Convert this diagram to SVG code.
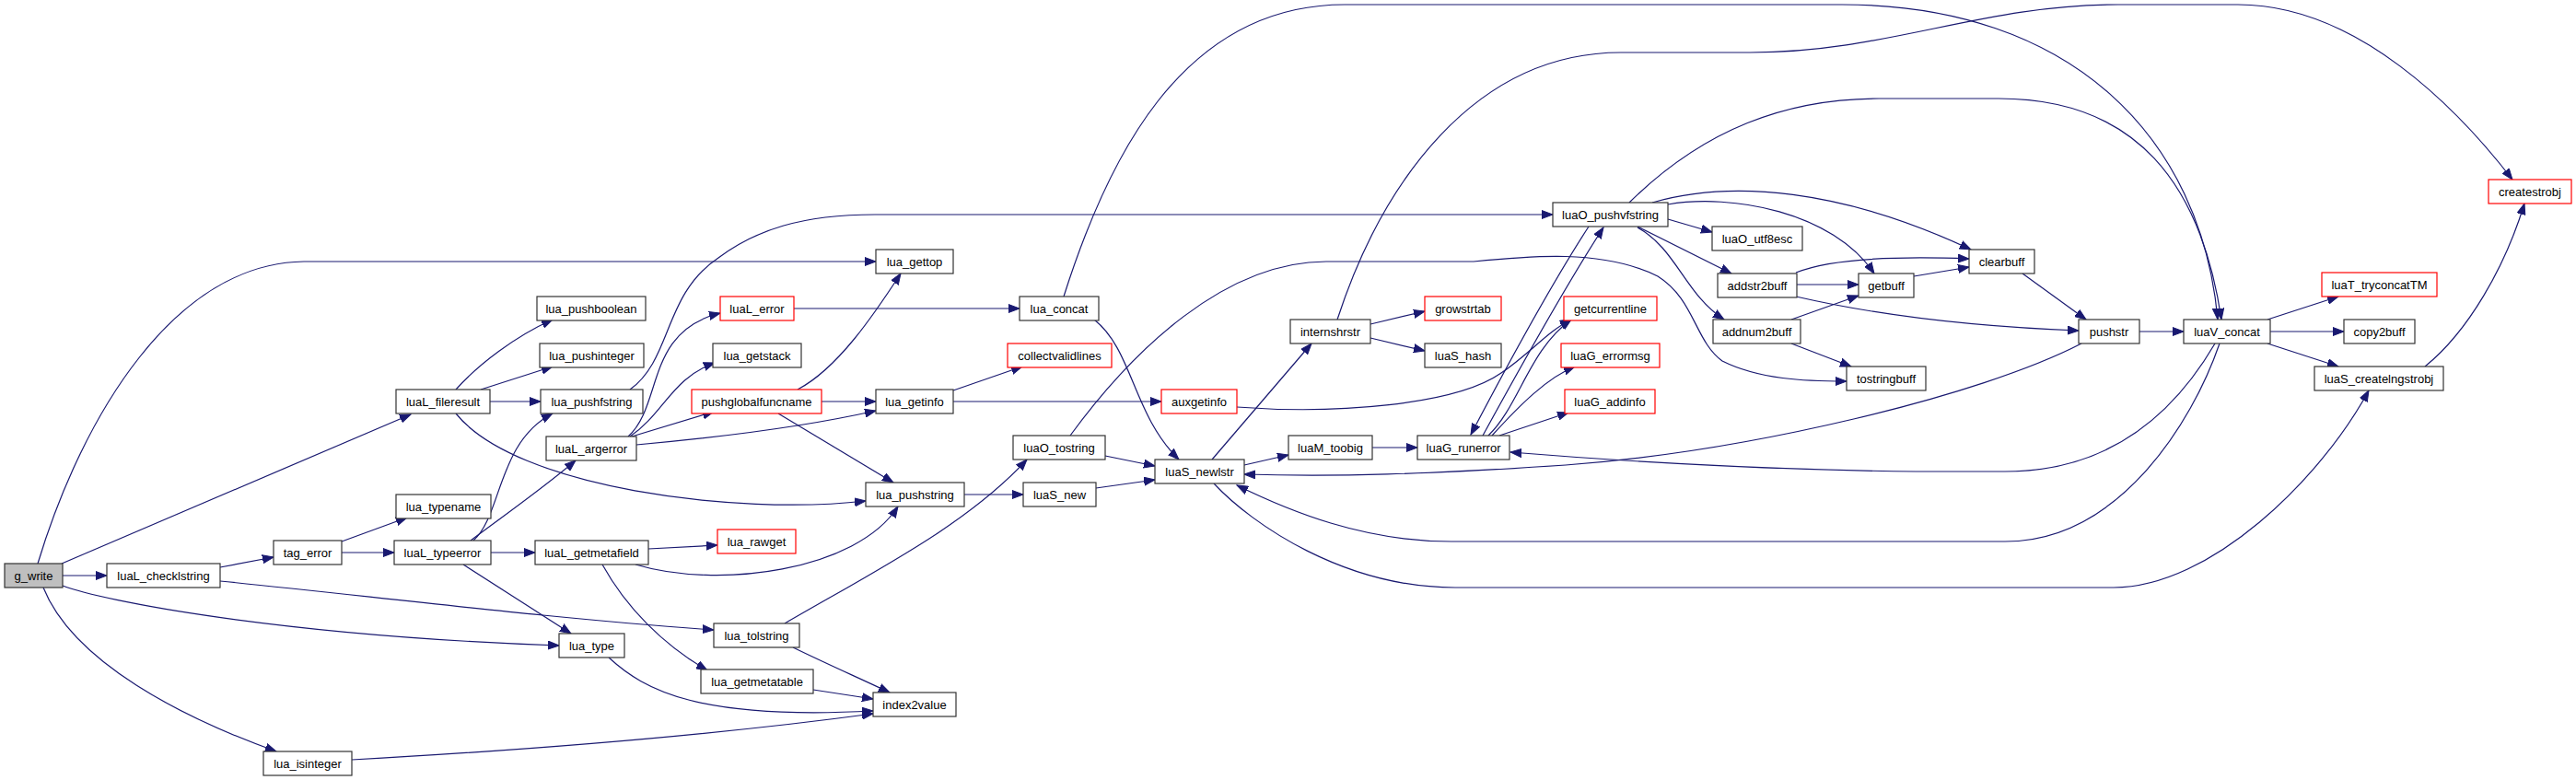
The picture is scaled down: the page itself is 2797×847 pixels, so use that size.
<svg xmlns="http://www.w3.org/2000/svg" width="2797" height="847" viewBox="0 0 2797 847">
<defs>
<style>
.n rect{fill:#fff;stroke:#333;stroke-width:1.2}
.n.r rect{stroke:#ff0000}
.n.g rect{fill:#bfbfbf}
.n text{font-family:"Liberation Sans",Arial,sans-serif;font-size:13px;fill:#000;text-anchor:middle}
.e path{fill:none;stroke:#191970;stroke-width:1.2;marker-end:url(#a)}
</style>
<marker id="a" markerWidth="13" markerHeight="10" refX="12" refY="5" orient="auto" markerUnits="userSpaceOnUse"><path d="M0,0.5 L12,5 L0,9.5 z" fill="#191970" stroke="#191970" stroke-width="1"/></marker>
</defs>
<rect width="2797" height="847" fill="#fff"/>
<g id="edges" class="e">
<path d="M68,625 L116,625"/>
<path d="M41,612 C90,450 190,286 330,284 L951,284"/>
<path d="M67,612 L446,450"/>
<path d="M68,636 C110,652 300,690 607,701"/>
<path d="M47,638 C80,720 200,780 300,816"/>
<path d="M239,616 L297,605"/>
<path d="M239,631 C400,647 600,672 775,684"/>
<path d="M371,588 L442,562"/>
<path d="M371,600 L428,600"/>
<path d="M533,600 L581,600"/>
<path d="M503,613 L620,688"/>
<path d="M511,587 C540,565 590,530 625,500"/>
<path d="M514,587 C545,560 540,480 600,449"/>
<path d="M495,423 C520,395 560,365 600,347"/>
<path d="M522,423 L600,398"/>
<path d="M532,436 L587,436"/>
<path d="M495,449 C560,530 800,560 940,544"/>
<path d="M682,474 C720,440 700,360 782,340"/>
<path d="M684,474 C720,450 730,410 776,394"/>
<path d="M686,474 L775,447"/>
<path d="M691,483 C780,475 880,462 951,446"/>
<path d="M684,423 C730,390 720,320 780,280 C820,250 870,233 950,233 L1686,233"/>
<path d="M866,423 C910,400 950,340 978,297"/>
<path d="M892,436 L951,436"/>
<path d="M845,449 L970,524"/>
<path d="M862,335 L1107,335"/>
<path d="M1035,424 L1110,398"/>
<path d="M1035,436 L1261,436"/>
<path d="M1188,347 C1230,380 1230,450 1280,499"/>
<path d="M1155,322 C1200,180 1280,5 1460,5 L2000,5 C2250,5 2390,150 2408,347"/>
<path d="M1200,495 L1254,506"/>
<path d="M1162,473 C1230,380 1330,284 1440,284 L1600,284 C1660,278 1740,270 1800,300 C1840,325 1840,370 1870,392 C1910,412 1960,414 2005,414"/>
<path d="M852,677 C950,620 1050,570 1115,499"/>
<path d="M861,703 C900,722 930,735 966,752"/>
<path d="M883,749 L948,759"/>
<path d="M661,714 C700,750 760,782 948,772"/>
<path d="M382,825 C600,813 800,795 948,775"/>
<path d="M704,596 L779,592"/>
<path d="M654,613 C680,660 720,700 768,728"/>
<path d="M690,613 C780,640 930,620 975,550"/>
<path d="M1047,537 L1111,537"/>
<path d="M1190,530 L1254,521"/>
<path d="M1316,499 L1424,373"/>
<path d="M1351,505 L1399,494"/>
<path d="M1490,486 L1539,486"/>
<path d="M1318,525 C1360,570 1460,638 1580,638 L2295,638 C2400,638 2520,520 2572,424"/>
<path d="M2410,373 C2380,460 2300,588 2177,588 L1576,588 C1480,588 1400,555 1343,527"/>
<path d="M2405,373 C2360,450 2290,512 2177,512 L2080,512 C1900,510 1750,500 1640,491"/>
<path d="M2260,373 C2150,430 1900,490 1700,505 C1550,515 1450,518 1351,515"/>
<path d="M2323,360 L2371,360"/>
<path d="M2462,347 L2539,322"/>
<path d="M2465,360 L2545,360"/>
<path d="M2462,373 L2539,398"/>
<path d="M2633,398 C2680,360 2720,290 2741,221"/>
<path d="M1452,347 C1500,200 1600,57 1760,57 L1900,57 C2050,57 2150,5 2300,5 L2430,5 C2560,5 2670,120 2728,195"/>
<path d="M1488,352 L1547,338"/>
<path d="M1488,367 L1547,381"/>
<path d="M1343,442 C1450,450 1580,440 1630,405 C1660,385 1680,360 1706,347"/>
<path d="M1616,473 C1650,440 1660,380 1706,347"/>
<path d="M1620,473 C1650,440 1680,410 1710,398"/>
<path d="M1628,473 L1703,448"/>
<path d="M1610,473 C1650,400 1700,310 1741,247"/>
<path d="M1725,246 C1690,300 1640,390 1597,472"/>
<path d="M1811,238 L1859,252"/>
<path d="M1778,246 L1880,297"/>
<path d="M1778,247 C1820,270 1830,320 1872,347"/>
<path d="M1811,222 C1880,210 1990,230 2035,297"/>
<path d="M1794,220 C1880,195 2000,205 2140,271"/>
<path d="M1769,220 C1850,140 1940,107 2040,107 L2170,107 C2320,107 2390,200 2412,347"/>
<path d="M1951,309 L2018,309"/>
<path d="M1950,296 C1990,280 2060,278 2138,281"/>
<path d="M1950,322 C2050,345 2150,355 2257,359"/>
<path d="M2078,300 L2138,290"/>
<path d="M1945,347 L2018,321"/>
<path d="M1945,373 L2010,398"/>
<path d="M2196,297 L2265,347"/>
</g>
<g id="n_g_write" class="n g"><rect x="5" y="612" width="63" height="26"/><text x="36.5" y="629.5">g_write</text></g>
<g id="n_luaL_checklstring" class="n"><rect x="116" y="612" width="123" height="26"/><text x="177.5" y="629.5">luaL_checklstring</text></g>
<g id="n_lua_gettop" class="n"><rect x="951" y="271" width="84" height="26"/><text x="993" y="288.5">lua_gettop</text></g>
<g id="n_luaL_fileresult" class="n"><rect x="430" y="423" width="102" height="26"/><text x="481" y="440.5">luaL_fileresult</text></g>
<g id="n_lua_pushboolean" class="n"><rect x="583" y="322" width="118" height="26"/><text x="642" y="339.5">lua_pushboolean</text></g>
<g id="n_lua_pushinteger" class="n"><rect x="586" y="373" width="113" height="26"/><text x="642.5" y="390.5">lua_pushinteger</text></g>
<g id="n_lua_pushfstring" class="n"><rect x="587" y="423" width="111" height="26"/><text x="642.5" y="440.5">lua_pushfstring</text></g>
<g id="n_luaL_argerror" class="n"><rect x="593" y="474" width="98" height="26"/><text x="642" y="491.5">luaL_argerror</text></g>
<g id="n_lua_typename" class="n"><rect x="430" y="537" width="103" height="26"/><text x="481.5" y="554.5">lua_typename</text></g>
<g id="n_tag_error" class="n"><rect x="297" y="587" width="74" height="26"/><text x="334" y="604.5">tag_error</text></g>
<g id="n_luaL_typeerror" class="n"><rect x="428" y="587" width="105" height="26"/><text x="480.5" y="604.5">luaL_typeerror</text></g>
<g id="n_luaL_getmetafield" class="n"><rect x="581" y="587" width="123" height="26"/><text x="642.5" y="604.5">luaL_getmetafield</text></g>
<g id="n_lua_type" class="n"><rect x="607" y="688" width="71" height="26"/><text x="642.5" y="705.5">lua_type</text></g>
<g id="n_lua_isinteger" class="n"><rect x="286" y="816" width="96" height="26"/><text x="334" y="833.5">lua_isinteger</text></g>
<g id="n_luaL_error" class="n r"><rect x="782" y="322" width="80" height="26"/><text x="822" y="339.5">luaL_error</text></g>
<g id="n_lua_getstack" class="n"><rect x="774" y="373" width="96" height="26"/><text x="822" y="390.5">lua_getstack</text></g>
<g id="n_pushglobalfuncname" class="n r"><rect x="751" y="423" width="141" height="26"/><text x="821.5" y="440.5">pushglobalfuncname</text></g>
<g id="n_lua_rawget" class="n r"><rect x="779" y="575" width="85" height="26"/><text x="821.5" y="592.5">lua_rawget</text></g>
<g id="n_lua_tolstring" class="n"><rect x="775" y="677" width="93" height="26"/><text x="821.5" y="694.5">lua_tolstring</text></g>
<g id="n_lua_getmetatable" class="n"><rect x="761" y="727" width="122" height="26"/><text x="822" y="744.5">lua_getmetatable</text></g>
<g id="n_index2value" class="n"><rect x="948" y="752" width="90" height="26"/><text x="993" y="769.5">index2value</text></g>
<g id="n_lua_concat" class="n"><rect x="1107" y="322" width="86" height="26"/><text x="1150" y="339.5">lua_concat</text></g>
<g id="n_collectvalidlines" class="n r"><rect x="1094" y="373" width="113" height="26"/><text x="1150.5" y="390.5">collectvalidlines</text></g>
<g id="n_lua_getinfo" class="n"><rect x="951" y="423" width="84" height="26"/><text x="993" y="440.5">lua_getinfo</text></g>
<g id="n_auxgetinfo" class="n r"><rect x="1261" y="423" width="82" height="26"/><text x="1302" y="440.5">auxgetinfo</text></g>
<g id="n_luaO_tostring" class="n"><rect x="1100" y="473" width="100" height="26"/><text x="1150" y="490.5">luaO_tostring</text></g>
<g id="n_luaS_newlstr" class="n"><rect x="1254" y="499" width="97" height="26"/><text x="1302.5" y="516.5">luaS_newlstr</text></g>
<g id="n_lua_pushstring" class="n"><rect x="940" y="524" width="107" height="26"/><text x="993.5" y="541.5">lua_pushstring</text></g>
<g id="n_luaS_new" class="n"><rect x="1111" y="524" width="79" height="26"/><text x="1150.5" y="541.5">luaS_new</text></g>
<g id="n_luaO_pushvfstring" class="n"><rect x="1686" y="220" width="125" height="26"/><text x="1748.5" y="237.5">luaO_pushvfstring</text></g>
<g id="n_luaO_utf8esc" class="n"><rect x="1859" y="246" width="98" height="26"/><text x="1908" y="263.5">luaO_utf8esc</text></g>
<g id="n_addstr2buff" class="n"><rect x="1865" y="297" width="86" height="26"/><text x="1908" y="314.5">addstr2buff</text></g>
<g id="n_getbuff" class="n"><rect x="2018" y="297" width="60" height="26"/><text x="2048" y="314.5">getbuff</text></g>
<g id="n_internshrstr" class="n"><rect x="1401" y="347" width="87" height="26"/><text x="1444.5" y="364.5">internshrstr</text></g>
<g id="n_growstrtab" class="n r"><rect x="1547" y="322" width="83" height="26"/><text x="1588.5" y="339.5">growstrtab</text></g>
<g id="n_luaS_hash" class="n"><rect x="1547" y="373" width="83" height="26"/><text x="1588.5" y="390.5">luaS_hash</text></g>
<g id="n_getcurrentline" class="n r"><rect x="1698" y="322" width="101" height="26"/><text x="1748.5" y="339.5">getcurrentline</text></g>
<g id="n_luaG_errormsg" class="n r"><rect x="1695" y="373" width="107" height="26"/><text x="1748.5" y="390.5">luaG_errormsg</text></g>
<g id="n_luaG_addinfo" class="n r"><rect x="1699" y="423" width="98" height="26"/><text x="1748" y="440.5">luaG_addinfo</text></g>
<g id="n_addnum2buff" class="n"><rect x="1860" y="347" width="95" height="26"/><text x="1907.5" y="364.5">addnum2buff</text></g>
<g id="n_tostringbuff" class="n"><rect x="2005" y="398" width="86" height="26"/><text x="2048" y="415.5">tostringbuff</text></g>
<g id="n_luaM_toobig" class="n"><rect x="1399" y="473" width="91" height="26"/><text x="1444.5" y="490.5">luaM_toobig</text></g>
<g id="n_luaG_runerror" class="n"><rect x="1539" y="473" width="100" height="26"/><text x="1589" y="490.5">luaG_runerror</text></g>
<g id="n_clearbuff" class="n"><rect x="2138" y="271" width="71" height="26"/><text x="2173.5" y="288.5">clearbuff</text></g>
<g id="n_createstrobj" class="n r"><rect x="2702" y="195" width="90" height="26"/><text x="2747" y="212.5">createstrobj</text></g>
<g id="n_luaT_tryconcatTM" class="n r"><rect x="2521" y="296" width="125" height="26"/><text x="2583.5" y="313.5">luaT_tryconcatTM</text></g>
<g id="n_pushstr" class="n"><rect x="2257" y="347" width="66" height="26"/><text x="2290" y="364.5">pushstr</text></g>
<g id="n_luaV_concat" class="n"><rect x="2371" y="347" width="94" height="26"/><text x="2418" y="364.5">luaV_concat</text></g>
<g id="n_copy2buff" class="n"><rect x="2545" y="347" width="77" height="26"/><text x="2583.5" y="364.5">copy2buff</text></g>
<g id="n_luaS_createlngstrobj" class="n"><rect x="2513" y="398" width="140" height="26"/><text x="2583" y="415.5">luaS_createlngstrobj</text></g>
</svg>
